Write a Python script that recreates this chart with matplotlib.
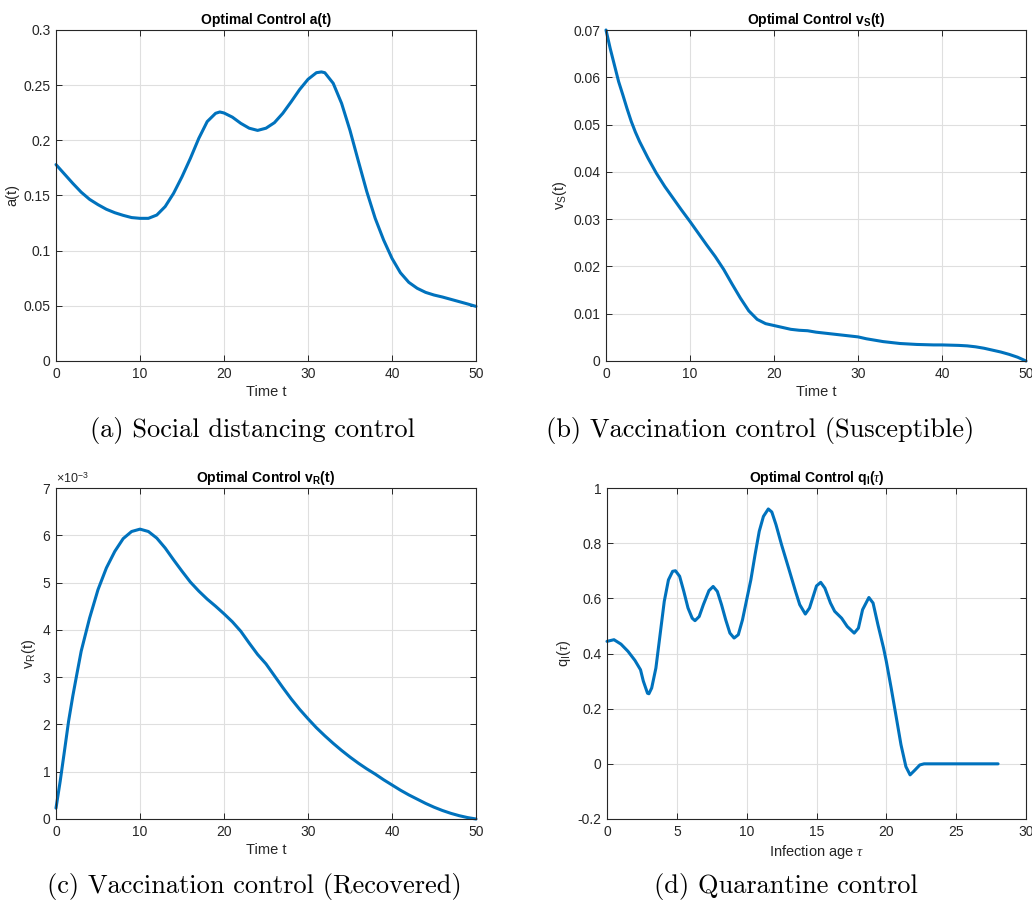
import numpy as np
import matplotlib
matplotlib.use("Agg")
import matplotlib.pyplot as plt
from matplotlib.ticker import FuncFormatter, MultipleLocator

# ---------------- data ----------------
t_a = [0, 1, 2, 3, 4, 5, 6, 7, 8, 9, 10, 11, 12, 13, 14, 15, 16, 17, 18, 19, 19.5,
       20, 21, 22, 23, 24, 25, 26, 27, 28, 29, 30, 31, 31.6, 32, 33, 34, 35, 36, 37,
       38, 39, 40, 41, 42, 43, 44, 45, 46, 47, 48, 49, 50]
a_vals = [0.178, 0.1695, 0.161, 0.153, 0.1465, 0.1417, 0.1375, 0.1344, 0.132, 0.130,
          0.1293, 0.1293, 0.1323, 0.140, 0.152, 0.167, 0.1837, 0.2018, 0.217, 0.2245,
          0.2257, 0.2248, 0.221, 0.2154, 0.211, 0.209, 0.211, 0.216, 0.2245, 0.235,
          0.246, 0.2553, 0.2613, 0.262, 0.2613, 0.2517, 0.2335, 0.209, 0.181, 0.1535,
          0.1293, 0.1097, 0.093, 0.080, 0.0713, 0.0659, 0.0622, 0.0598, 0.058, 0.0559,
          0.0538, 0.0517, 0.0495]

t_vs = [0, 0.5, 1, 1.5, 2, 2.5, 3, 3.5, 4, 5, 6, 7, 8, 9, 10, 11, 12, 13, 14, 15, 16,
        17, 18, 19, 20, 21, 22, 23, 24, 25, 26, 27, 28, 29, 30, 31, 32, 33, 34, 35, 36,
        37, 38, 39, 40, 41, 42, 43, 44, 45, 46, 47, 48, 49, 50]
vs_vals = [0.0700, 0.0661, 0.0626, 0.0591, 0.0563, 0.0534, 0.0507, 0.0484, 0.0464,
           0.0429, 0.0397, 0.0369, 0.0344, 0.0319, 0.0295, 0.0270, 0.0245, 0.0221,
           0.0194, 0.0163, 0.0133, 0.0106, 0.0088, 0.0079, 0.0075, 0.0071, 0.0067,
           0.0065, 0.0064, 0.0061, 0.0059, 0.0057, 0.0055, 0.0053, 0.0051, 0.0047,
           0.0044, 0.0041, 0.0039, 0.0037, 0.0036, 0.0035, 0.00345, 0.0034, 0.0034,
           0.00335, 0.0033, 0.0032, 0.0030, 0.0027, 0.0023, 0.0019, 0.0014, 0.0008,
           0.0000]

t_vr = [0, 0.5, 1, 1.5, 2, 2.5, 3, 3.5, 4, 5, 6, 7, 8, 9, 10, 11, 12, 13, 14, 15, 16,
        17, 18, 19, 20, 21, 22, 23, 24, 25, 26, 27, 28, 29, 30, 31, 32, 33, 34, 35,
        36, 37, 38, 39, 40, 41, 42, 43, 44, 45, 46, 47, 48, 49, 50]
vr_vals_e3 = [0.23, 0.80, 1.43, 2.07, 2.60, 3.08, 3.55, 3.90, 4.25, 4.85, 5.31, 5.66,
              5.93, 6.08, 6.13, 6.08, 5.94, 5.73, 5.48, 5.24, 5.01, 4.82, 4.65, 4.50,
              4.34, 4.17, 3.97, 3.72, 3.48, 3.28, 3.03, 2.78, 2.54, 2.32, 2.12, 1.93,
              1.76, 1.60, 1.45, 1.31, 1.18, 1.06, 0.95, 0.83, 0.72, 0.61, 0.51, 0.42,
              0.33, 0.25, 0.18, 0.12, 0.07, 0.03, 0.0]

tau_q = [0, 0.5, 1, 1.5, 2, 2.4, 2.6, 2.9, 3.0, 3.2, 3.5, 3.8, 4.1, 4.4, 4.7, 4.9, 5.2,
         5.5, 5.8, 6.1, 6.3, 6.6, 6.9, 7.3, 7.6, 7.9, 8.2, 8.5, 8.8, 9.1, 9.4, 9.7,
         10.0, 10.3, 10.6, 10.9, 11.2, 11.55, 11.8, 12.1, 12.5, 13.0, 13.5, 13.8, 14.2,
         14.5, 15.0, 15.3, 15.6, 16.0, 16.3, 16.8, 17.2, 17.7, 18.0, 18.3, 18.75, 19.05,
         19.4, 19.8, 20.0, 20.35, 20.7, 21.05, 21.4, 21.7, 22.0, 22.4, 22.7, 28.0]
q_vals = [0.444, 0.45, 0.434, 0.408, 0.375, 0.341, 0.30, 0.256, 0.254, 0.275, 0.347,
          0.468, 0.589, 0.667, 0.698, 0.70, 0.68, 0.625, 0.565, 0.528, 0.519, 0.534,
          0.577, 0.628, 0.643, 0.625, 0.577, 0.522, 0.474, 0.456, 0.468, 0.522, 0.595,
          0.667, 0.758, 0.843, 0.897, 0.924, 0.913, 0.867, 0.794, 0.71, 0.625, 0.577,
          0.543, 0.565, 0.645, 0.658, 0.637, 0.583, 0.553, 0.528, 0.498, 0.474, 0.492,
          0.559, 0.603, 0.583, 0.504, 0.42, 0.371, 0.274, 0.172, 0.069, -0.01, -0.04,
          -0.025, -0.004, 0.0, 0.0]

titles = [r"Optimal Control a(t)", r"Optimal Control v$_\mathbf{S}$(t)",
          r"Optimal Control v$_\mathbf{R}$(t)", r"Optimal Control q$_\mathbf{I}$($\tau$)"]
ylabels = ["a(t)", r"v$_\mathrm{S}$(t)", r"v$_\mathrm{R}$(t)", r"q$_\mathrm{I}$($\tau$)"]
xlabels = ["Time t", "Time t", "Time t", r"Infection age $\tau$"]
captions = ["(a) Social distancing control", "(b) Vaccination control (Susceptible)",
            "(c) Vaccination control (Recovered)", "(d) Quarantine control"]

# ---------------- style ----------------
plt.rcParams['font.family'] = ['Liberation Sans', 'DejaVu Sans']
plt.rcParams['mathtext.fontset'] = 'custom'
plt.rcParams['mathtext.rm'] = 'Liberation Sans'
plt.rcParams['mathtext.bf'] = 'Liberation Sans:bold'
plt.rcParams['mathtext.it'] = 'Liberation Serif:italic'
plt.rcParams['axes.unicode_minus'] = False

LINE = '#0072BD'
AXC = '#262626'

fig = plt.figure(figsize=(10.32, 9.0), dpi=100)
W, H = 1032.0, 900.0
boxes = [(56, 30, 476, 361), (606, 30, 1026, 361), (56, 488, 476, 819), (607, 488, 1026, 819)]
axes = []
for (l, t, r, b) in boxes:
    ax = fig.add_axes([l / W, 1 - b / H, (r - l) / W, (b - t) / H])
    axes.append(ax)

series = [(t_a, a_vals), (t_vs, vs_vals),
          (t_vr, np.array(vr_vals_e3) * 1e-3), (tau_q, q_vals)]
xlims = [(0, 50), (0, 50), (0, 50), (0, 30)]
xsteps = [10, 10, 10, 5]
ylims = [(0, 0.3), (0, 0.07), (0, 0.007), (-0.2, 1.0)]
ysteps = [0.05, 0.01, 0.001, 0.2]

gfmt = FuncFormatter(lambda v, p: ('%g' % round(v, 6)))
for i, ax in enumerate(axes):
    x, y = series[i]
    ax.plot(x, y, color=LINE, lw=2.2, solid_joinstyle='round', solid_capstyle='round',
            zorder=3, clip_on=False)
    ax.set_xlim(*xlims[i])
    ax.set_ylim(*ylims[i])
    ax.xaxis.set_major_locator(MultipleLocator(xsteps[i]))
    ax.yaxis.set_major_locator(MultipleLocator(ysteps[i]))
    ax.xaxis.set_major_formatter(gfmt)
    if i == 2:
        ax.yaxis.set_major_formatter(FuncFormatter(lambda v, p: '%g' % round(v * 1e3, 6)))
        ax.text(0.0, 1.006, r"$\times$10$^{-3}$", transform=ax.transAxes, fontsize=9,
                color=AXC, ha='left', va='bottom')
    else:
        ax.yaxis.set_major_formatter(gfmt)
    ax.grid(True, color='#dfdfdf', lw=0.8)
    ax.set_axisbelow(True)
    ax.tick_params(direction='in', top=True, right=True, length=4, width=0.7,
                   colors=AXC, labelsize=10, pad=4)
    for s in ax.spines.values():
        s.set_color(AXC)
        s.set_linewidth(0.8)
        s.set_zorder(4)
    ax.set_title(titles[i], fontsize=10, fontweight='bold', pad=4)
    ax.set_xlabel(xlabels[i], fontsize=10.5, color=AXC, labelpad=3)
    ax.set_ylabel(ylabels[i], fontsize=10.5, color=AXC, labelpad=3)

cap_pos = [(253, 430), (760, 430), (254, 886), (786, 886)]
for (cx, cy), c in zip(cap_pos, captions):
    fig.text(cx / W, 1 - cy / H, c, family='cmr10', fontsize=19, ha='center', va='center')

fig.savefig('out.png', dpi=100)
